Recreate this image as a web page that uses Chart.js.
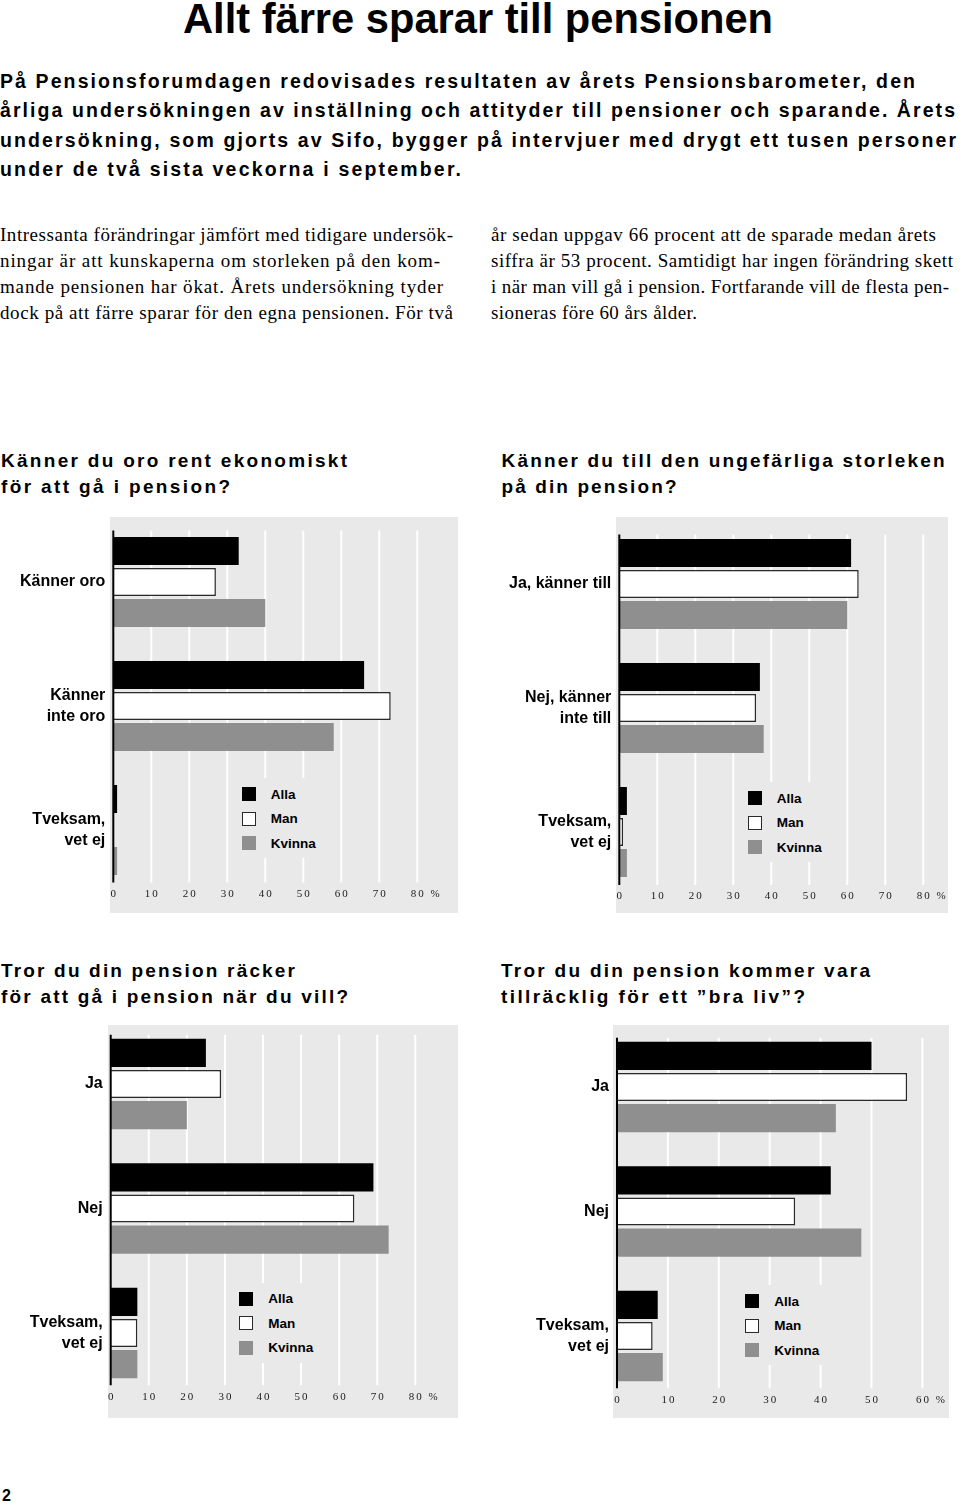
<!DOCTYPE html>
<html><head><meta charset="utf-8">
<script src="https://cdn.jsdelivr.net/npm/chart.js@4.4.1/dist/chart.umd.min.js"></script>
<style>
html,body{margin:0;padding:0;background:#fff;}
body{width:960px;height:1503px;position:relative;overflow:hidden;color:#000;}
.t{position:absolute;white-space:nowrap;line-height:1;display:inline-block;}
.sans{font-family:'Liberation Sans',Arial,sans-serif;font-weight:bold;}
.narrow{font-family:'Liberation Sans Narrow','Liberation Sans',Arial,sans-serif;font-weight:bold;}
.serif{font-family:'Liberation Serif','Times New Roman',serif;font-weight:normal;}
.panel{position:absolute;background:#e9e9e9;z-index:0;}
.cw{position:absolute;z-index:1;}
.legend{position:absolute;background:#e9e9e9;z-index:2;}
.li{position:absolute;left:0;height:14px;display:flex;align-items:center;font-family:'Liberation Sans',Arial,sans-serif;font-weight:bold;font-size:13.5px;white-space:nowrap;}
.sw{width:14px;height:14px;box-sizing:border-box;margin-right:15px;}
</style>
</head>
<body>
<script>
// ---------------- data ----------------
const seriesNames = ['Alla', 'Man', 'Kvinna'];
const seriesColors = ['#000000', '#ffffff', '#8f8f8f'];
const ticks80 = [0, 10, 20, 30, 40, 50, 60, 70, 80];
const ticks60 = [0, 10, 20, 30, 40, 50, 60];

const oroCats = ['Känner oro', ['Känner', 'inte oro'], ['Tveksam,', 'vet ej']];
const oroAlla = [33, 66, 1];
const oroMan = [27, 73, 0];
const oroKvinna = [40, 58, 1];

const storlekCats = ['Ja, känner till', ['Nej, känner', 'inte till'], ['Tveksam,', 'vet ej']];
const storlekAlla = [61, 37, 2];
const storlekMan = [63, 36, 1];
const storlekKvinna = [60, 38, 2];

const rackerCats = ['Ja', 'Nej', ['Tveksam,', 'vet ej']];
const rackerAlla = [25, 69, 7];
const rackerMan = [29, 64, 7];
const rackerKvinna = [20, 73, 7];

const braLivCats = ['Ja', 'Nej', ['Tveksam,', 'vet ej']];
const braLivAlla = [50, 42, 8];
const braLivMan = [57, 35, 7];
const braLivKvinna = [43, 48, 9];

// ---------------- text ----------------
const SANS_K = 0.8465, SERIF_K = 0.8375;
const texts = [
  {s:'Allt färre sparar till pensionen', x:183, b:33, size:43, cls:'narrow', w:590, mode:'scale'},
  {s:'På Pensionsforumdagen redovisades resultaten av årets Pensionsbarometer, den', x:0, b:88.5, size:19.5, cls:'sans', w:915},
  {s:'årliga undersökningen av inställning och attityder till pensioner och sparande. Årets', x:0, b:118, size:19.5, cls:'sans', w:955},
  {s:'undersökning, som gjorts av Sifo, bygger på intervjuer med drygt ett tusen personer', x:0, b:147.5, size:19.5, cls:'sans', w:956},
  {s:'under de två sista veckorna i september.', x:0, b:177, size:19.5, cls:'sans', w:461},
  {s:'Intressanta förändringar jämfört med tidigare undersök-', x:0, b:241, size:19, cls:'serif', w:453},
  {s:'ningar är att kunskaperna om storleken på den kom-', x:0, b:267, size:19, cls:'serif', w:440},
  {s:'mande pensionen har ökat. Årets undersökning tyder', x:0, b:293, size:19, cls:'serif', w:443},
  {s:'dock på att färre sparar för den egna pensionen. För två', x:0, b:319, size:19, cls:'serif', w:453},
  {s:'år sedan uppgav 66 procent att de sparade medan årets', x:491, b:241, size:19, cls:'serif', w:445},
  {s:'siffra är 53 procent. Samtidigt har ingen förändring skett', x:491, b:267, size:19, cls:'serif', w:462},
  {s:'i när man vill gå i pension. Fortfarande vill de flesta pen-', x:491, b:293, size:19, cls:'serif', w:458},
  {s:'sioneras före 60 års ålder.', x:491, b:319, size:19, cls:'serif', w:206},
  {s:'Känner du oro rent ekonomiskt', x:1, b:467, size:19, cls:'sans', w:346},
  {s:'för att gå i pension?', x:1, b:493.5, size:19, cls:'sans', w:229},
  {s:'Känner du till den ungefärliga storleken', x:501.5, b:467, size:19, cls:'sans', w:443},
  {s:'på din pension?', x:501.5, b:493.5, size:19, cls:'sans', w:175},
  {s:'Tror du din pension räcker', x:1, b:976.7, size:19, cls:'sans', w:294},
  {s:'för att gå i pension när du vill?', x:1, b:1003.3, size:19, cls:'sans', w:347},
  {s:'Tror du din pension kommer vara', x:501, b:976.7, size:19, cls:'sans', w:369},
  {s:'tillräcklig för ett ”bra liv”?', x:501, b:1003.3, size:19, cls:'sans', w:304},
  {s:'2', x:2, b:1502, size:16, cls:'sans'}
];
texts.forEach(t => {
  const d = document.createElement('div');
  d.className = 't ' + t.cls;
  d.textContent = t.s;
  d.style.fontSize = t.size + 'px';
  d.style.left = t.x + 'px';
  d.style.top = (t.b - (t.cls === 'serif' ? SERIF_K : SANS_K) * t.size) + 'px';
  document.body.appendChild(d);
  if (t.w) {
    const w = d.getBoundingClientRect().width;
    if (t.mode === 'scale') {
      d.style.transformOrigin = '0 0';
      d.style.transform = 'scaleX(' + (t.w / w) + ')';
    } else {
      d.style.letterSpacing = ((t.w - w) / (t.s.length - 1)) + 'px';
    }
  }
});

// ---------------- charts ----------------
Chart.defaults.font.family = "'Liberation Sans', Arial, sans-serif";

const axisPlugin = {
  id: 'axisPanel',
  beforeDatasetsDraw(chart, args, o) {
    const {ctx, chartArea: a, scales: {x}} = chart;
    const top = a.top + o.insetTop, bot = a.bottom - o.insetBottom;
    ctx.save();
    ctx.strokeStyle = '#ffffff';
    ctx.lineWidth = 2;
    o.tickValues.forEach(v => {
      if (v === 0) return;
      const px = x.getPixelForValue(v);
      ctx.beginPath(); ctx.moveTo(px, top); ctx.lineTo(px, bot); ctx.stroke();
    });
    ctx.restore();
  },
  afterDatasetsDraw(chart, args, o) {
    const {ctx, chartArea: a, scales: {x}} = chart;
    const top = a.top + o.insetTop, bot = a.bottom - o.insetBottom;
    ctx.save();
    const x0 = x.getPixelForValue(0);
    ctx.strokeStyle = '#000';
    ctx.lineWidth = 2;
    ctx.beginPath(); ctx.moveTo(x0, top); ctx.lineTo(x0, bot); ctx.stroke();
    ctx.font = "11px 'Liberation Serif', 'Times New Roman', serif";
    try { ctx.letterSpacing = '2px'; } catch (e) {}
    ctx.fillStyle = '#1a1a1a';
    ctx.textBaseline = 'middle';
    const n = o.tickValues.length;
    o.tickValues.forEach((v, i) => {
      const px = x.getPixelForValue(v);
      const s = String(v);
      const w = ctx.measureText(s).width;
      ctx.textAlign = 'left';
      ctx.fillText(i === n - 1 ? s + ' %' : s, px - w / 2 + 1, bot + 11.5);
    });
    ctx.restore();
  }
};

function makeChart(cfg) {
  const p = document.createElement('div');
  p.className = 'panel';
  Object.assign(p.style, {left: cfg.panel[0] + 'px', top: cfg.panel[1] + 'px', width: cfg.panel[2] + 'px', height: cfg.panel[3] + 'px'});
  document.body.appendChild(p);

  const wrap = document.createElement('div');
  wrap.className = 'cw';
  Object.assign(wrap.style, {left: cfg.box[0] + 'px', top: cfg.box[1] + 'px', width: cfg.box[2] + 'px', height: cfg.box[3] + 'px'});
  const cv = document.createElement('canvas');
  cv.width = cfg.box[2]; cv.height = cfg.box[3];
  cv.style.width = cfg.box[2] + 'px'; cv.style.height = cfg.box[3] + 'px';
  wrap.appendChild(cv);
  document.body.appendChild(wrap);

  const vals = [cfg.alla, cfg.man, cfg.kvinna];
  new Chart(cv, {
    type: 'bar',
    data: {
      labels: cfg.cats,
      datasets: vals.map((d, i) => ({
        label: seriesNames[i],
        data: d,
        backgroundColor: seriesColors[i],
        borderColor: i === 1 ? '#2a2a2a' : seriesColors[i],
        borderWidth: i === 1 ? 1.5 : 0,
        borderSkipped: 'start',
        categoryPercentage: 0.75,
        barPercentage: 0.9
      }))
    },
    options: {
      indexAxis: 'y',
      responsive: false,
      animation: false,
      events: [],
      layout: {padding: {left: 0, top: cfg.area[1], right: cfg.area[2], bottom: cfg.area[3]}},
      scales: {
        x: {type: 'linear', min: 0, max: cfg.max, display: false, ticks: {stepSize: 10}},
        y: {
          type: 'category',
          grid: {display: false, drawTicks: false},
          border: {display: false},
          ticks: {padding: 8, color: '#000', font: {weight: 'bold', size: 16, lineHeight: 1.3}},
          afterFit(s) { s.width = cfg.area[0]; s.paddingTop = 0; s.paddingBottom = 0; }
        }
      },
      plugins: {
        legend: {display: false},
        tooltip: {enabled: false},
        axisPanel: {tickValues: cfg.ticks, insetTop: cfg.inset[0], insetBottom: cfg.inset[1]}
      }
    },
    plugins: [axisPlugin]
  });

  // legend (HTML, on a gray box that covers the gridlines as in the original)
  const lg = document.createElement('div');
  lg.className = 'legend';
  const lx = cfg.leg[0] - 7, ly = cfg.leg[1] - 9;
  Object.assign(lg.style, {left: lx + 'px', top: ly + 'px', width: '86px', height: '80px'});
  seriesNames.forEach((nm, i) => {
    const it = document.createElement('div');
    it.className = 'li';
    it.style.left = '7px';
    it.style.top = (9 + i * 24.5) + 'px';
    const sw = document.createElement('div');
    sw.className = 'sw';
    sw.style.background = seriesColors[i];
    if (i === 1) sw.style.border = '1.5px solid #2a2a2a';
    const tx = document.createElement('span');
    tx.textContent = nm;
    it.appendChild(sw); it.appendChild(tx);
    lg.appendChild(it);
  });
  document.body.appendChild(lg);
}

makeChart({box: [0, 510, 460, 410], area: [113.3, 10, 42.7, 28], inset: [10.5, 9.5], max: 80, ticks: ticks80,
  panel: [110, 517, 348, 396], leg: [241.7, 787], cats: oroCats, alla: oroAlla, man: oroMan, kvinna: oroKvinna});
makeChart({box: [490, 510, 470, 410], area: [129.3, 12, 36.7, 26], inset: [12.5, 9], max: 80, ticks: ticks80,
  panel: [616, 517, 332, 396], leg: [747.7, 791], cats: storlekCats, alla: storlekAlla, man: storlekMan, kvinna: storlekKvinna});
makeChart({box: [0, 1020, 460, 400], area: [110.7, 1.75, 44.7, 24.75], inset: [13, 10], max: 80, ticks: ticks80,
  panel: [108, 1025, 350, 393], leg: [239.3, 1291.7], cats: rackerCats, alla: rackerAlla, man: rackerMan, kvinna: rackerKvinna});
makeChart({box: [490, 1020, 470, 400], area: [127, 4.75, 37.6, 21.75], inset: [13, 10], max: 60, ticks: ticks60,
  panel: [613, 1025, 336, 393], leg: [745.3, 1294], cats: braLivCats, alla: braLivAlla, man: braLivMan, kvinna: braLivKvinna});
</script>
</body></html>
